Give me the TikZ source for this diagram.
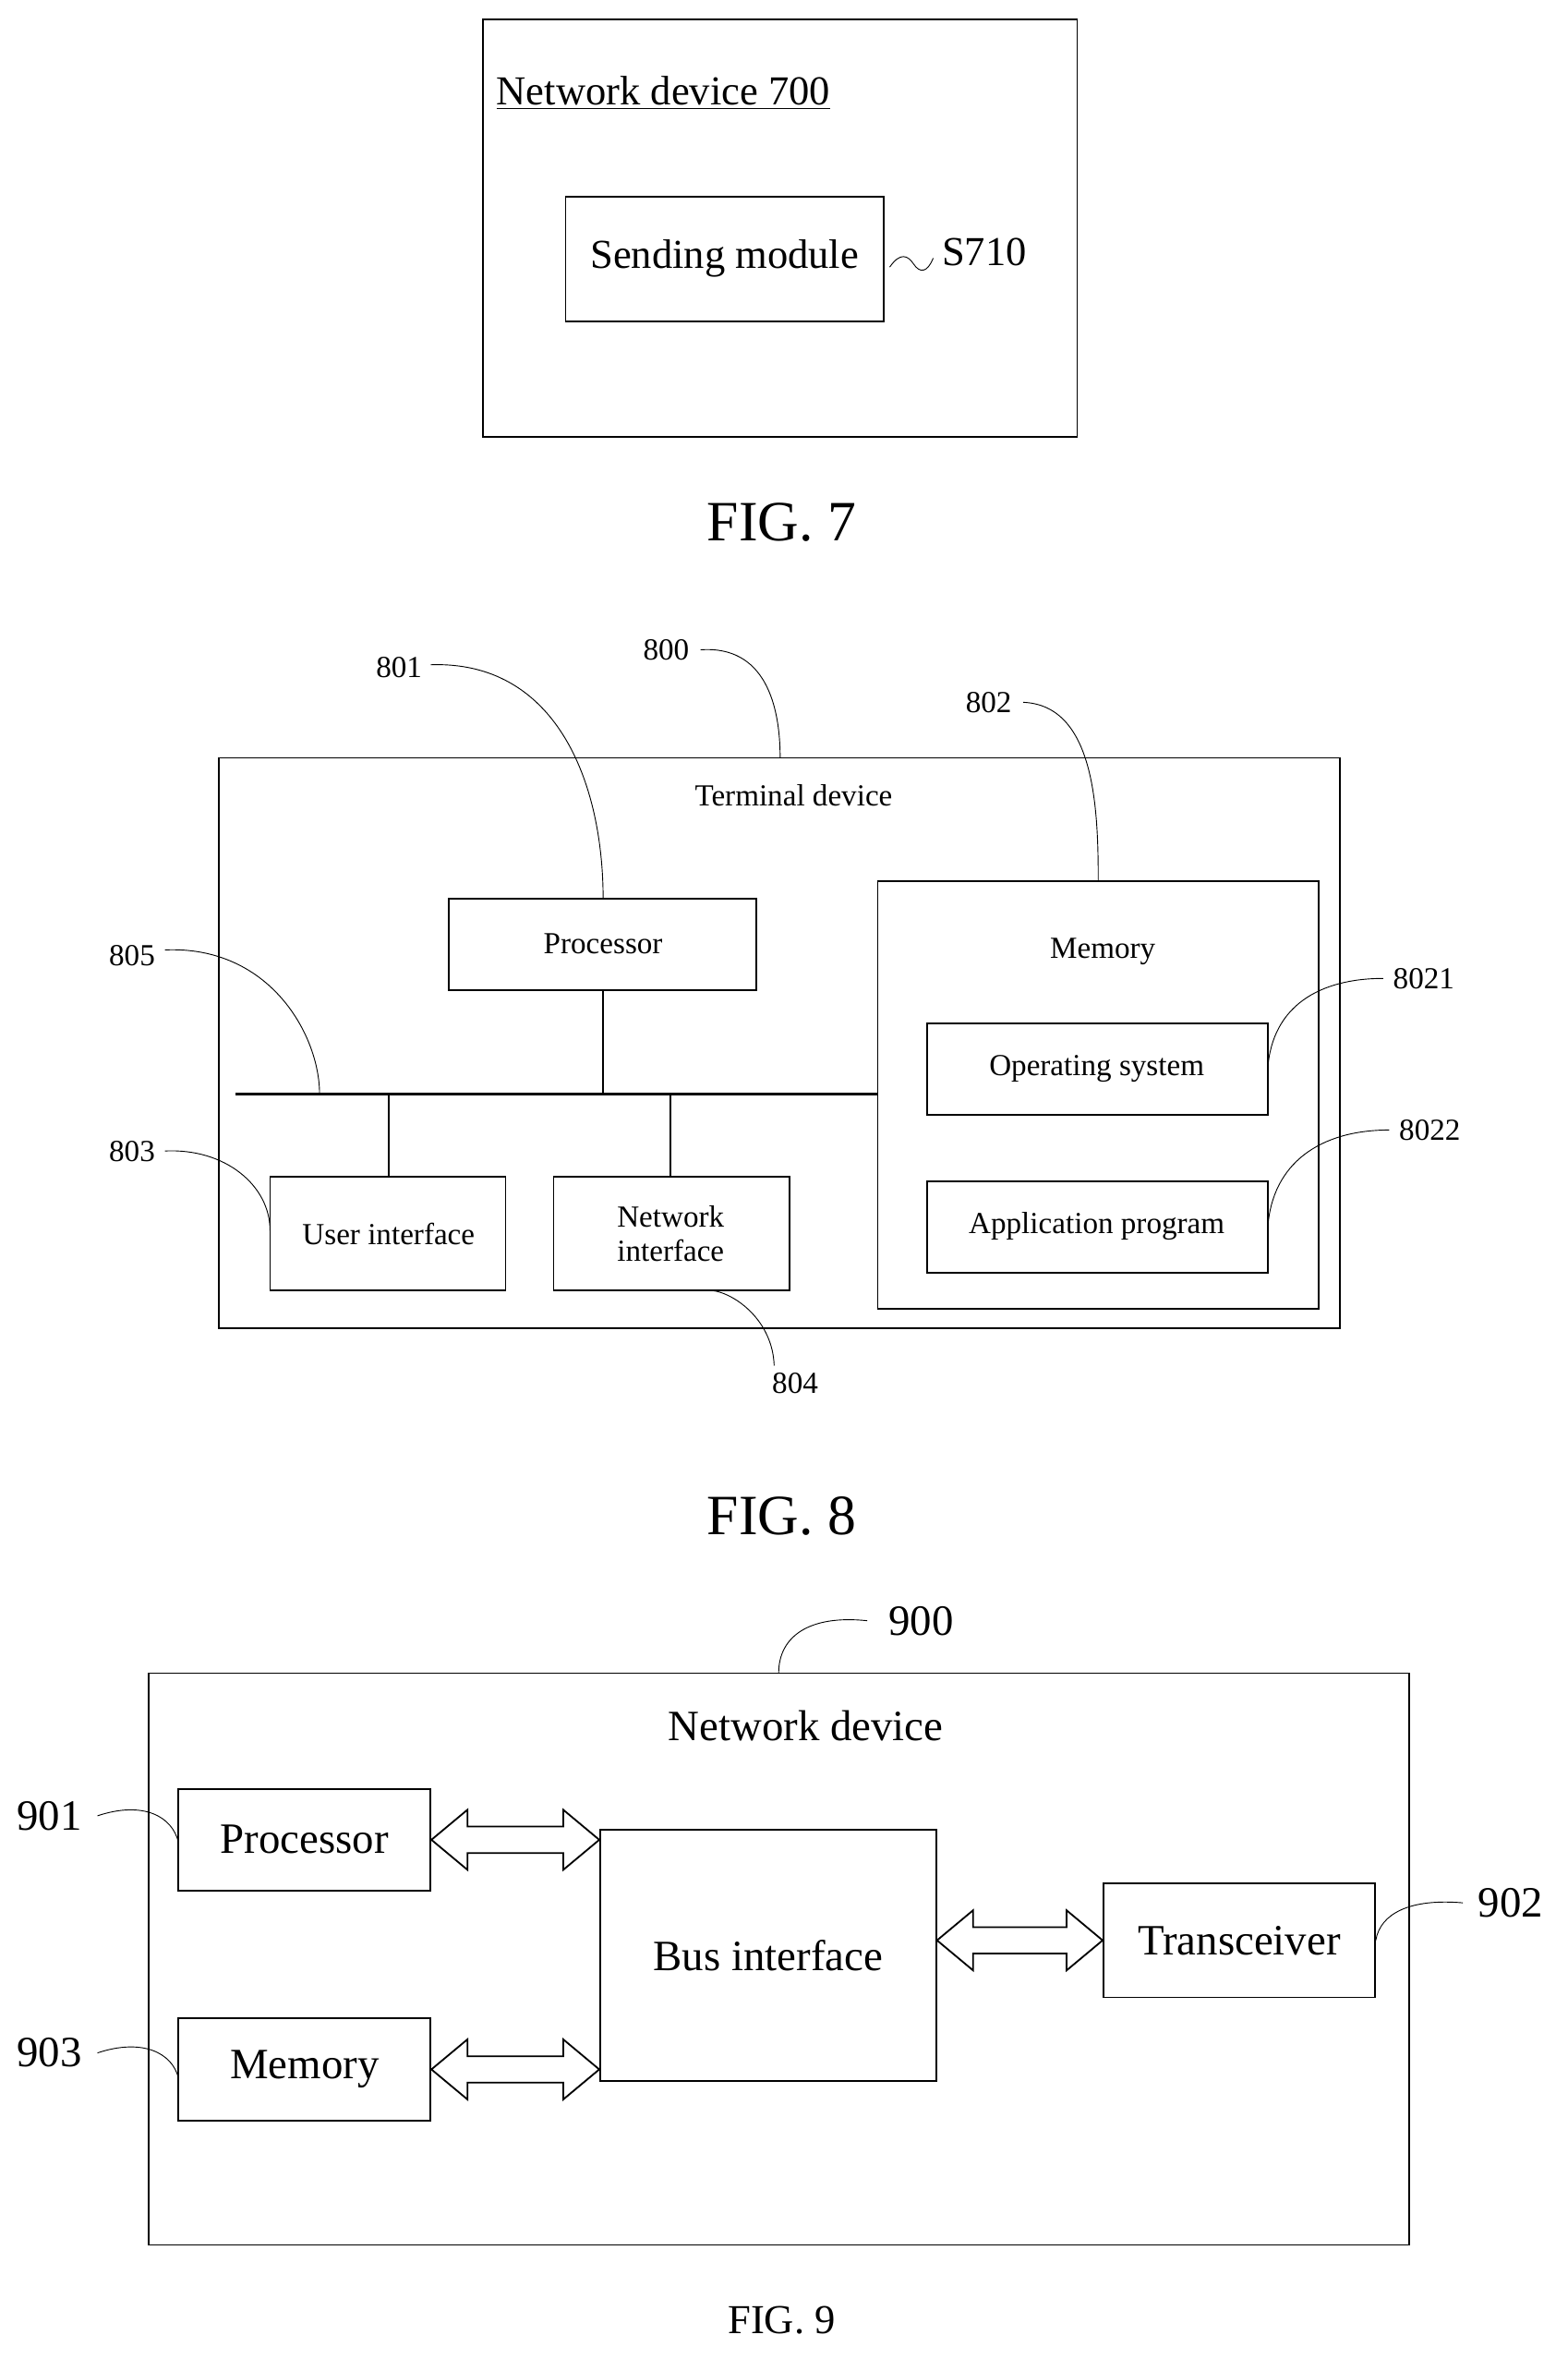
\documentclass[tikz,border=0pt]{standalone}
\usepackage{fontspec}
\setmainfont{Liberation Serif}
\usetikzlibrary{positioning,calc}

% hollow two-headed block arrow between two points on one row
\newcommand\hollowarrow[2]{%
  \draw[thick] let \p1=#1, \p2=#2 in
    (\x1,\y1) -- ++(0.6cm,0.5cm) -- ++(0,-0.28cm) -- (\x2-0.6cm,\y1+0.22cm)
    -- ++(0,0.28cm) -- (\x2,\y1) -- ++(-0.6cm,-0.5cm) -- ++(0,0.28cm)
    -- (\x1+0.6cm,\y1-0.22cm) -- ++(0,-0.28cm) -- cycle;}

\begin{document}
\begin{tikzpicture}[x=0.025cm,y=-0.025cm,
        box/.style = {draw, thick, inner sep=0pt},
        txtA/.style = {font=\fontsize{19.5pt}{22pt}\selectfont},
        txtB/.style = {font=\fontsize{14.5pt}{16pt}\selectfont, align=center},
        txtC/.style = {font=\fontsize{20.5pt}{23pt}\selectfont},
        lead/.style = {thin}
        ]
        \useasboundingbox (0,0) rectangle (1045,1572);
        % FIG. 7
        \draw[box] (322,13) rectangle (718,291);
        \node[txtA, anchor=west] (nd700) at (326,62) {\underline{Network device 700}};
        \draw[box] (377,131) rectangle (589,214);
        \node[txtA] (send) at (483,172) {Sending module};
        \node[txtA] (s710) at (656,168) {S710};
        \draw[lead] (593,178) .. controls (600,168) and (605,170) .. (609,176) .. controls (613,182) and (618,182) .. (622,172);
        \node[font=\fontsize{27pt}{30pt}\selectfont] (fig7) at (521,348) {FIG. 7};
        % FIG. 8
        \draw[box] (146,505) rectangle (893,885);
        \node[txtB] (term) at (529,530) {Terminal device};
        \draw[box] (299,599) rectangle (504,660);
        \node[txtB] (proc8) at (402,629) {Processor};
        \draw[box] (585,587) rectangle (879,872);
        \node[txtB] (mem8) at (735,634) {Memory};
        \draw[box] (618,682) rectangle (845,743);
        \node[txtB] (os) at (731,712) {Operating system};
        \draw[box] (618,787) rectangle (845,848);
        \node[txtB] (app) at (731,817) {Application program};
        \draw[box] (180,784) rectangle (337,860);
        \node[txtB] (ui) at (259,822) {User interface};
        \draw[box] (369,784) rectangle (526,860);
        \node[txtB] (ni) at (447,822) {Network\\interface};
        \draw[line width=1.6pt] (157,729) -- (585,729);
        \draw[thick] (402,660) -- (402,729);
        \draw[thick] (259,729) -- (259,784);
        \draw[thick] (447,729) -- (447,784);
        \node[txtB] (l801) at (266,445) {801};
        \node[txtB] (l800) at (444,433) {800};
        \node[txtB] (l802) at (659,468) {802};
        \node[txtB] (l805) at (88,637) {805};
        \node[txtB] (l803) at (88,767) {803};
        \node[txtB] (l804) at (530,922) {804};
        \node[txtB] (l8021) at (949,652) {8021};
        \node[txtB] (l8022) at (953,753) {8022};
        \draw[lead] (287,443) .. controls (370,440) and (402,520) .. (402,599);
        \draw[lead] (467,433) .. controls (510,430) and (520,470) .. (520,505);
        \draw[lead] (682,468) .. controls (730,470) and (732,540) .. (732,587);
        \draw[lead] (110,633) .. controls (180,630) and (213,690) .. (213,729);
        \draw[lead] (110,767) .. controls (150,765) and (180,790) .. (180,820);
        \draw[lead] (516,910) .. controls (515,880) and (490,862) .. (475,860);
        \draw[lead] (845,712) .. controls (848,670) and (880,652) .. (922,652);
        \draw[lead] (845,818) .. controls (848,775) and (880,753) .. (926,753);
        \node[font=\fontsize{27pt}{30pt}\selectfont] (fig8) at (521,1010) {FIG. 8};
        % FIG. 9
        \draw[box] (99,1115) rectangle (939,1496);
        \node[txtC] (nd) at (537,1150) {Network device};
        \node[box, txtC, minimum width=168*0.025cm, minimum height=68*0.025cm] (proc9) at (203,1226) {Processor};
        \node[box, txtC, minimum width=168*0.025cm, minimum height=68*0.025cm] (mem9) at (203,1379) {Memory};
        \node[box, txtC, minimum width=224*0.025cm, minimum height=167*0.025cm] (bus) at (512,1303) {Bus interface};
        \node[box, txtC, minimum width=181*0.025cm, minimum height=76*0.025cm] (trx) at (826,1293) {Transceiver};
        \hollowarrow{(proc9.east)}{(proc9.east -| bus.west)}
        \hollowarrow{(mem9.east)}{(mem9.east -| bus.west)}
        \hollowarrow{(trx.west -| bus.east)}{(trx.west)}
        \node[txtC] (l900) at (614,1080) {900};
        \node[txtC] (l901) at (33,1210) {901};
        \node[txtC] (l903) at (33,1368) {903};
        \node[txtC] (l902) at (1007,1268) {902};
        \draw[lead] (578,1080) .. controls (540,1076) and (519,1090) .. (519,1115);
        \draw[lead] (65,1210) .. controls (95,1200) and (115,1210) .. (119,1228);
        \draw[lead] (65,1368) .. controls (95,1358) and (115,1368) .. (119,1385);
        \draw[lead] (975,1268) .. controls (940,1265) and (920,1275) .. (917,1293);
        \node[font=\fontsize{19.5pt}{22pt}\selectfont] (fig9) at (521,1546) {FIG. 9};
\end{tikzpicture}
\end{document}
